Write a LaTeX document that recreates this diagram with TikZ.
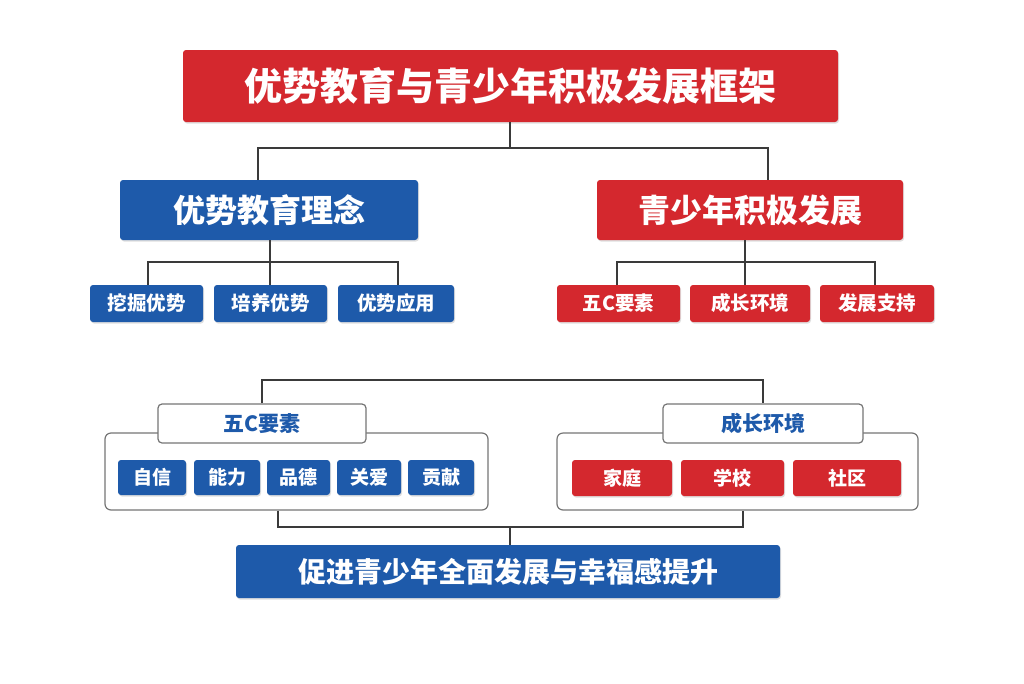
\documentclass[tikz,border=0pt]{standalone}
\usepackage{fontspec}
\newfontfamily\cjk{Noto Sans CJK SC}
\usetikzlibrary{shadows}
\definecolor{myred}{HTML}{D4282E}
\definecolor{myblue}{HTML}{1E5AAA}
\definecolor{ln}{HTML}{3A3A3A}
\begin{document}
\begin{tikzpicture}[x=1pt,y=-1pt,
  box/.style={draw=none,rounded corners=3pt,text=white,font=\cjk\bfseries,drop shadow={opacity=0.25,shadow xshift=1pt,shadow yshift=-1.5pt}},
  rb/.style={box,fill=myred},
  bb/.style={box,fill=myblue},
  grp/.style={draw=ln!70,line width=1.2pt,rounded corners=6pt,fill=white},
  lab/.style={draw=ln!70,line width=1.2pt,rounded corners=4pt,fill=white,text=myblue,font=\cjk\bfseries\fontsize{21}{24}\selectfont},
  con/.style={draw=ln,line width=2pt}]
\useasboundingbox (0,0) rectangle (1024,683);
\tikzset{bx/.style args={#1,#2,#3,#4}{minimum width=#3-#1,minimum height=#4-#2,inner sep=0pt}}
% title
\node[rb,bx={183,50,838,122},font=\cjk\bfseries\fontsize{38}{44}\selectfont] (t) at (510.5,86) {优势教育与青少年积极发展框架};
\node[bb,bx={120,180,418,240},font=\cjk\bfseries\fontsize{32}{38}\selectfont] (a) at (269,210) {优势教育理念};
\node[rb,bx={597,180,903,240},font=\cjk\bfseries\fontsize{32}{38}\selectfont] (b) at (750,210) {青少年积极发展};
\coordinate (t1) at (510,148);
\draw[con] (t.south -| t1) -- (t1);
\draw[con] (a.north -| 258,0) |- (t1) -| (b.north -| 768,0);
% small boxes
\tikzset{sm/.style={font=\cjk\bfseries\fontsize{19.5}{23}\selectfont,minimum height=37pt,inner sep=0pt}}
\node[bb,sm,minimum width=113pt] (a1) at (146.5,303.5) {挖掘优势};
\node[bb,sm,minimum width=113pt] (a2) at (270.5,303.5) {培养优势};
\node[bb,sm,minimum width=116pt] (a3) at (396,303.5) {优势应用};
\node[rb,sm,minimum width=123pt] (b1) at (618.5,303.5) {五C要素};
\node[rb,sm,minimum width=120pt] (b2) at (750,303.5) {成长环境};
\node[rb,sm,minimum width=114pt] (b3) at (877,303.5) {发展支持};
\coordinate (ah) at (270,262);
\draw[con] (a.south -| ah) -- (ah);
\draw[con] (a1.north -| 148,0) |- (ah) -| (a3.north -| 398,0);
\draw[con] (ah) -- (a2.north -| ah);
\coordinate (bh) at (745,262);
\draw[con] (b.south -| bh) -- (bh);
\draw[con] (b1.north -| 617,0) |- (bh) -| (b3.north -| 875,0);
\draw[con] (bh) -- (b2.north -| bh);
% lower groups
\node[grp,minimum width=383pt,minimum height=77pt] (g1) at (296.5,471.5) {};
\node[grp,minimum width=361pt,minimum height=77pt] (g2) at (737.5,471.5) {};
\node[lab,minimum width=208pt,minimum height=39pt] (l1) at (262,423.5) {五C要素};
\node[lab,minimum width=200pt,minimum height=39pt] (l2) at (763,423.5) {成长环境};
\coordinate (lh1) at (262,380);
\coordinate (lh2) at (763,380);
\draw[con] (l1.north) -- (lh1) -- (lh2) -- (l2.north);
\tikzset{it/.style={font=\cjk\bfseries\fontsize{19}{22}\selectfont,minimum height=35pt,inner sep=0pt}}
\node[bb,it,minimum width=68pt] (c1) at (152,477.5) {自信};
\node[bb,it,minimum width=66pt] (c2) at (227,477.5) {能力};
\node[bb,it,minimum width=63pt] (c3) at (298.5,477.5) {品德};
\node[bb,it,minimum width=64pt] (c4) at (369,477.5) {关爱};
\node[bb,it,minimum width=66pt] (c5) at (441,477.5) {贡献};
\node[rb,it,minimum width=100pt,minimum height=36pt] (d1) at (622,478) {家庭};
\node[rb,it,minimum width=103pt,minimum height=36pt] (d2) at (732.5,478) {学校};
\node[rb,it,minimum width=108pt,minimum height=36pt] (d3) at (847,478) {社区};
% bottom
\node[bb,minimum width=544pt,minimum height=53pt,inner sep=0pt,font=\cjk\bfseries\fontsize{28}{33}\selectfont] (e) at (508,571.5) {促进青少年全面发展与幸福感提升};
\coordinate (eh) at (510,527);
\draw[con] (g1.south -| 278,0) |- (eh) -| (g2.south -| 743,0);
\draw[con] (eh) -- (e.north -| eh);
\end{tikzpicture}
\end{document}
